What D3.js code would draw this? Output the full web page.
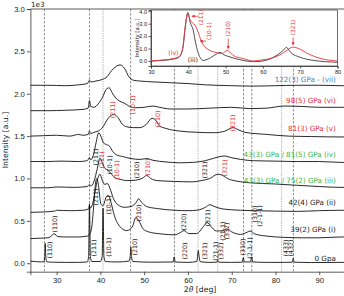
<!DOCTYPE html>
<meta charset="utf-8">
<head>
<script src="https://d3js.org/d3.v7.min.js"></script>
<style>
body { margin: 0; background: white; }
svg { font-family: "DejaVu Sans", sans-serif; }
.axis text { font-size: 7.7px; fill: #222; }
.axis path, .axis line { stroke: #333; stroke-width: 0.8px; }
.inset .axis text { font-size: 5.6px; }
.pk { font-size: 6.3px; }
.tag { font-size: 7.2px; }
</style>
</head>
<body>
<svg id="chart"></svg>
<script>
// ---- data (2theta [deg], counts) ----
var s0 = [[24,25],[25,20],[26.5,15],[27.1,18],[27.3,100],[27.4,235],[27.5,100],[27.7,18],[29,12],[32,10],[35,10],[37,14],[37.3,80],[37.5,700],[37.7,80],[38,20],[40,20],[40.4,80],[40.6,650],[40.8,80],[41.1,20],[44,15],[46.5,25],[46.8,80],[46.95,190],[47.1,80],[47.4,20],[52,12],[56.6,15],[56.85,75],[57.1,15],[60,10],[62,20],[62.2,80],[62.35,150],[62.55,80],[62.8,18],[65,10],[66.6,12],[66.8,35],[67,12],[70,10],[72.4,12],[72.65,65],[72.9,15],[74.3,15],[74.55,75],[74.8,15],[78,10],[82,10],[83.8,12],[84.05,55],[84.3,12],[88,8],[95,10],[100,10]];
var s1 = [[24,290],[26,295],[28,300],[28.8,320],[29.4,350],[30.2,315],[32,310],[35,310],[37,320],[37.5,340],[38,420],[38.5,700],[38.9,950],[39.2,1000],[39.6,900],[40.1,700],[40.6,680],[41.3,780],[41.8,800],[42.4,720],[43.2,560],[44.5,430],[46,385],[47.3,430],[48.1,540],[48.8,500],[49.7,410],[51,370],[54,345],[57,335],[58.2,360],[59.1,385],[60.2,350],[62,350],[63.5,430],[64.4,480],[65.3,430],[66.5,380],[68,385],[68.9,405],[70,370],[72,340],[73.5,365],[74.2,380],[75.3,345],[78,320],[82,305],[86,300],[90,300],[95,310],[100,305]];
var s2 = [[24,600],[27,605],[29.5,615],[30,625],[33,620],[36,625],[37.3,640],[37.5,680],[37.7,650],[38.2,700],[38.8,850],[39.4,1000],[39.9,1050],[40.4,980],[41,930],[41.6,940],[42.2,880],[43,760],[44,690],[45.5,660],[47,670],[48.2,720],[48.7,760],[49.4,720],[50.5,670],[53,645],[57,625],[60,620],[62,625],[64,660],[65,690],[66,670],[68,640],[72,625],[75,620],[80,615],[85,612],[90,620],[95,625],[100,620]];
var s3 = [[24,890],[28,890],[30,900],[34,895],[37,905],[37.5,930],[37.8,910],[38.5,960],[39.3,1120],[39.9,1240],[40.4,1190],[41,1120],[41.7,1100],[42.4,1060],[43.3,1010],[44.5,990],[46,975],[48,980],[49.5,1000],[50.6,1035],[51.5,1000],[53,975],[57,965],[61,960],[63,975],[65,1000],[66.8,1050],[67.8,1040],[69,1000],[71,970],[74,950],[80,935],[90,905],[95,895],[100,895]];
var s4 = [[24,1200],[28,1200],[31,1205],[35,1200],[37,1210],[37.5,1245],[37.8,1220],[38.4,1280],[39,1420],[39.6,1540],[40.1,1500],[40.7,1420],[41.4,1400],[42.1,1380],[42.8,1320],[43.6,1280],[45,1260],[47,1235],[49,1225],[50.6,1235],[52,1215],[55,1195],[58,1185],[61,1190],[63,1200],[65,1225],[67,1255],[68.3,1265],[70,1245],[72,1225],[75,1210],[80,1205],[85,1200],[90,1200],[95,1190],[100,1190]];
var s5 = [[24,1500],[27,1505],[30,1510],[33,1500],[35,1520],[36,1510],[37.2,1520],[37.5,1560],[37.8,1530],[38.5,1545],[39.5,1560],[40.6,1610],[41.5,1690],[42.3,1740],[43.2,1755],[44,1720],[45,1640],[46,1610],[47.5,1600],[49,1600],[50.5,1640],[51.8,1710],[52.6,1690],[53.5,1620],[55,1590],[58,1560],[62,1545],[66,1540],[68.5,1560],[70.3,1600],[71.5,1575],[73,1545],[78,1520],[83,1500],[88,1495],[95,1490],[100,1490]];
var s6 = [[24,1800],[28,1800],[32,1805],[36,1815],[37.2,1830],[37.5,1920],[37.8,1850],[38.5,1840],[39.5,1880],[40.5,1960],[41.3,2050],[42,2070],[42.7,2010],[43.5,1950],[44.5,1910],[45.4,1890],[46.5,1855],[48,1835],[50,1840],[52,1855],[53.5,1840],[56,1820],[60,1820],[65,1830],[70,1840],[74,1825],[78,1830],[82,1855],[86,1850],[90,1840],[95,1840],[100,1840]];
var s7 = [[24,2100],[28,2100],[32,2095],[35,2105],[37,2120],[37.5,2160],[37.8,2140],[39,2150],[40.5,2170],[41.5,2200],[42.5,2270],[43.5,2320],[44.5,2340],[45.5,2300],[46.5,2200],[47.5,2160],[49,2150],[52,2140],[56,2130],[60,2120],[64,2105],[70,2095],[75,2090],[80,2095],[85,2100],[90,2100],[95,2095],[100,2095]];
var series = [s0, s1, s2, s3, s4, s5, s6, s7];

// names at the right end of each pattern
var tagText = ["0 Gpa", "39(2) GPa (i)", "42(4) GPa (ii)", "43(3) GPa / 75(2) GPa (iii)", "43(3) GPa / 81(5) GPa (iv)", "81(3) GPa (v)", "98(5) GPa (vi)", "122(3) GPa - (vii)"];
var tagLevel = [26, 369, 687, 947, 1254, 1560, 1891, 2140];
var tagColor = ["#222", "#222", "#222", "#3bb54a", "#3bb54a", "#e8323a", "#e8323a", "#4a7fb8"];

// reference lines (0 GPa reflections)
var dashedAt = [27.2, 37.5, 46.9, 56.9, 72.7, 74.6, 84.1];
var dottedAt = [40.6, 62.3, 66.8, 81.4];

// peak labels: text, 2theta, level, colour (k black / r red)
var pkText = ["(110)","(211)","(10-1)","(210)","(220)","(321)","(21-1)","(332)","(310)","(2-1-1)","(433)","(432)",
              "(110)","(211)","(10-1)","(210)","(220)","(321)","(21-1)","(332)","(310)","(2-1-1)",
              "(211)","(211)","(10-1)","(10-1)","(210)","(210)","(321)","(321)",
              "(211)","(10-1)","(210)","(321)"];
var pkX = [28.5,38.5,42.0,47.9,59.3,63.9,66.4,67.5,72.6,74.2,82.4,83.5,
           29.6,39.0,42.0,48.8,59.1,64.6,68.0,68.9,75.3,76.5,
           39.0,40.4,42.2,43.8,48.4,50.9,63.9,68.5,
           42.9,47.4,53.1,70.3];
var pkY = [156,179,191,191,144,144,144,144,191,179,179,179,
           463,782,687,593,486,534,380,380,581,557,
           1254,1218,1159,1100,1100,1136,1100,1124,
           1810,1868,1702,1655];
var pkC = "kkkkkkkkkkkkkkkkkkkkkkkrkrkrkrrrrr";

// inset: normalised patterns (iii) black and (iv) red
var insetIV = [[30,0.0],[32,0.05],[34,0.1],[36,0.2],[37.5,0.35],[38.5,1.0],[39.2,2.8],[39.8,3.8],[40.5,3.3],[41.3,3.0],[41.8,2.9],[42.4,2.5],[43.7,1.45],[45,1.0],[47.2,0.7],[49,0.6],[50.4,0.85],[51.2,0.7],[52,0.45],[54.7,0.2],[57.4,0.0],[60,0.1],[62,0.2],[65.2,0.6],[66.5,0.87],[68,1.12],[69.6,1.0],[72,0.6],[75.5,0.2],[80,0.0]];
var insetIII = [[30,0.0],[32,0.03],[34,0.08],[36,0.15],[37.5,0.3],[38.5,1.0],[39.3,3.0],[39.9,3.9],[40.5,3.1],[41.3,2.5],[41.8,1.7],[42.7,0.6],[44,0.05],[45.9,0.25],[47.2,0.5],[48.5,0.7],[49.5,0.5],[50.4,0.4],[52,0.25],[54.7,0.05],[57.4,-0.05],[60,0.0],[62.8,0.3],[65.5,0.87],[66.3,1.1],[67.4,0.7],[70,0.3],[73.5,0.05],[80,-0.1]];
var insetNotes = ["(211)", "(10-1)", "(210)", "(321)"];
var insetNoteX = [43.5, 45.5, 50.7, 68.1];
var insetNoteY = [3.5, 2.4, 2.6, 2.7];

// ---- layout ----
var W = 344, H = 296;
var svg = d3.select("#chart").attr("width", W).attr("height", H);

var x = d3.scaleLinear().domain([24, 100]).range([30.4, 363]);
var y = d3.scaleLinear().domain([-100, 3000]).range([271.7, 9]);

svg.append("defs").append("clipPath").attr("id", "clip")
    .append("rect").attr("x", 30.4).attr("y", 9).attr("width", 332.6).attr("height", 262.7);

// axes
svg.append("g").attr("class", "axis")
    .attr("transform", "translate(0,271.7)")
    .call(d3.axisBottom(x).tickValues([30,40,50,60,70,80,90]).tickSize(3.5).tickPadding(2));
svg.append("g").attr("class", "axis")
    .attr("transform", "translate(30.4,0)")
    .call(d3.axisLeft(y).tickValues([0,500,1000,1500,2000,2500,3000])
        .tickFormat(function(d) { return d3.format(".1f")(d / 1000); })
        .tickSize(3.5).tickPadding(2));
svg.append("line").attr("x1", 30.4).attr("x2", 363).attr("y1", 9).attr("y2", 9)
    .style("stroke", "#333").style("stroke-width", 0.8);

svg.append("text").attr("x", 31).attr("y", 6.5).style("font-size", "7.2px").style("fill", "#222").text("1e3");
svg.append("text").attr("transform", "translate(8,140) rotate(-90)")
    .attr("text-anchor", "middle").style("font-size", "7.7px").style("fill", "#222")
    .text("Intensity [a.u.]");
var xl = svg.append("text").attr("x", 200).attr("y", 292)
    .attr("text-anchor", "middle").style("font-size", "7.7px").style("fill", "#222");
xl.append("tspan").text("2");
xl.append("tspan").style("font-style", "italic").text("θ");
xl.append("tspan").text(" [deg]");

var plot = svg.append("g").attr("clip-path", "url(#clip)");

// reference lines
plot.selectAll(".dash").data(dashedAt).enter().append("line")
    .attr("x1", function(d) { return x(d); }).attr("x2", function(d) { return x(d); })
    .attr("y1", 9).attr("y2", 271.7)
    .style("stroke", "#444").style("stroke-width", 0.6).style("stroke-dasharray", "2.5,1.5");
plot.selectAll(".dot").data(dottedAt).enter().append("line")
    .attr("x1", function(d) { return x(d); }).attr("x2", function(d) { return x(d); })
    .attr("y1", 9).attr("y2", 271.7)
    .style("stroke", "#888").style("stroke-width", 0.7).style("stroke-dasharray", "1.2,1.2");

// patterns
var line = d3.line().curve(d3.curveMonotoneX)
    .x(function(d) { return x(d[0]); })
    .y(function(d) { return y(d[1]); });
plot.selectAll(".pat").data(series).enter().append("path")
    .attr("d", line).attr("fill", "none")
    .style("stroke", "#111").style("stroke-width", 0.9);

// peak labels
plot.selectAll(".pk").data(pkText).enter().append("text")
    .attr("class", "pk")
    .attr("transform", function(d, i) { return "translate(" + (x(pkX[i]) + 2.2) + "," + y(pkY[i]) + ") rotate(-90)"; })
    .attr("text-anchor", "middle")
    .style("fill", function(d, i) { return pkC[i] == "r" ? "#e8323a" : "#222"; })
    .text(function(d) { return d; });

// pattern names
svg.selectAll(".tag").data(tagText).enter().append("text")
    .attr("class", "tag")
    .attr("x", x(93.8)).attr("y", function(d, i) { return y(tagLevel[i]); })
    .attr("text-anchor", "end")
    .style("fill", function(d, i) { return tagColor[i]; })
    .text(function(d) { return d; });

// ---- inset ----
var ix = d3.scaleLinear().domain([30, 80]).range([151, 337.5]);
var iy = d3.scaleLinear().domain([-0.4, 4.1]).range([66, 10]);
var inset = svg.append("g").attr("class", "inset");
inset.append("rect").attr("x", 151).attr("y", 10).attr("width", 186.5).attr("height", 56)
    .style("fill", "white").style("stroke", "#333").style("stroke-width", 0.7);
inset.append("g").attr("class", "axis").attr("transform", "translate(0,66)")
    .call(d3.axisBottom(ix).tickValues([30,40,50,60,70,80]).tickSize(2.5).tickPadding(1.5));
inset.append("g").attr("class", "axis").attr("transform", "translate(151,0)")
    .call(d3.axisLeft(iy).tickValues([0,1,2,3,4]).tickSize(2.5).tickPadding(1.5));
inset.append("text").attr("transform", "translate(139,38) rotate(-90)")
    .attr("text-anchor", "middle").style("font-size", "5.3px").style("fill", "#222")
    .text("Intensity [a.u.]");

var iline = d3.line().curve(d3.curveMonotoneX)
    .x(function(d) { return ix(d[0]); })
    .y(function(d) { return iy(d[1]); });
inset.append("path").datum(insetIII).attr("d", iline).attr("fill", "none")
    .style("stroke", "#222").style("stroke-width", 0.8);
inset.append("path").datum(insetIV).attr("d", iline).attr("fill", "none")
    .style("stroke", "#e8323a").style("stroke-width", 0.9);

inset.append("text").attr("x", ix(36)).attr("y", iy(0.45)).attr("text-anchor", "middle")
    .style("font-size", "6.3px").style("fill", "#e8323a").text("(iv)");
inset.append("text").attr("x", ix(41.2)).attr("y", iy(-0.1)).attr("text-anchor", "middle")
    .style("font-size", "6.3px").style("fill", "#222").text("(iii)");

inset.append("defs").append("marker").attr("id", "arr")
    .attr("viewBox", "0 0 6 6").attr("refX", 5).attr("refY", 3)
    .attr("markerWidth", 4).attr("markerHeight", 4).attr("orient", "auto")
    .append("path").attr("d", "M0,0L6,3L0,6Z").style("fill", "#e8323a");

inset.selectAll(".note").data(insetNotes).enter().append("text")
    .attr("transform", function(d, i) { return "translate(" + (ix(insetNoteX[i]) + 2) + "," + iy(insetNoteY[i]) + ") rotate(-90)"; })
    .attr("text-anchor", "middle").style("font-size", "5.8px").style("fill", "#e8323a")
    .text(function(d) { return d; });
// arrows: first two point left, last two point down
inset.append("line").attr("x1", ix(42.8)).attr("x2", ix(41.0)).attr("y1", iy(3.6)).attr("y2", iy(3.6))
    .style("stroke", "#e8323a").style("stroke-width", 0.8).attr("marker-end", "url(#arr)");
inset.append("line").attr("x1", ix(44.8)).attr("x2", ix(43.2)).attr("y1", iy(1.6)).attr("y2", iy(1.6))
    .style("stroke", "#e8323a").style("stroke-width", 0.8).attr("marker-end", "url(#arr)");
inset.append("line").attr("x1", ix(50.7)).attr("x2", ix(50.7)).attr("y1", iy(1.8)).attr("y2", iy(1.0))
    .style("stroke", "#e8323a").style("stroke-width", 0.8).attr("marker-end", "url(#arr)");
inset.append("line").attr("x1", ix(68.1)).attr("x2", ix(68.1)).attr("y1", iy(1.9)).attr("y2", iy(1.3))
    .style("stroke", "#e8323a").style("stroke-width", 0.8).attr("marker-end", "url(#arr)");
</script>
</body>
